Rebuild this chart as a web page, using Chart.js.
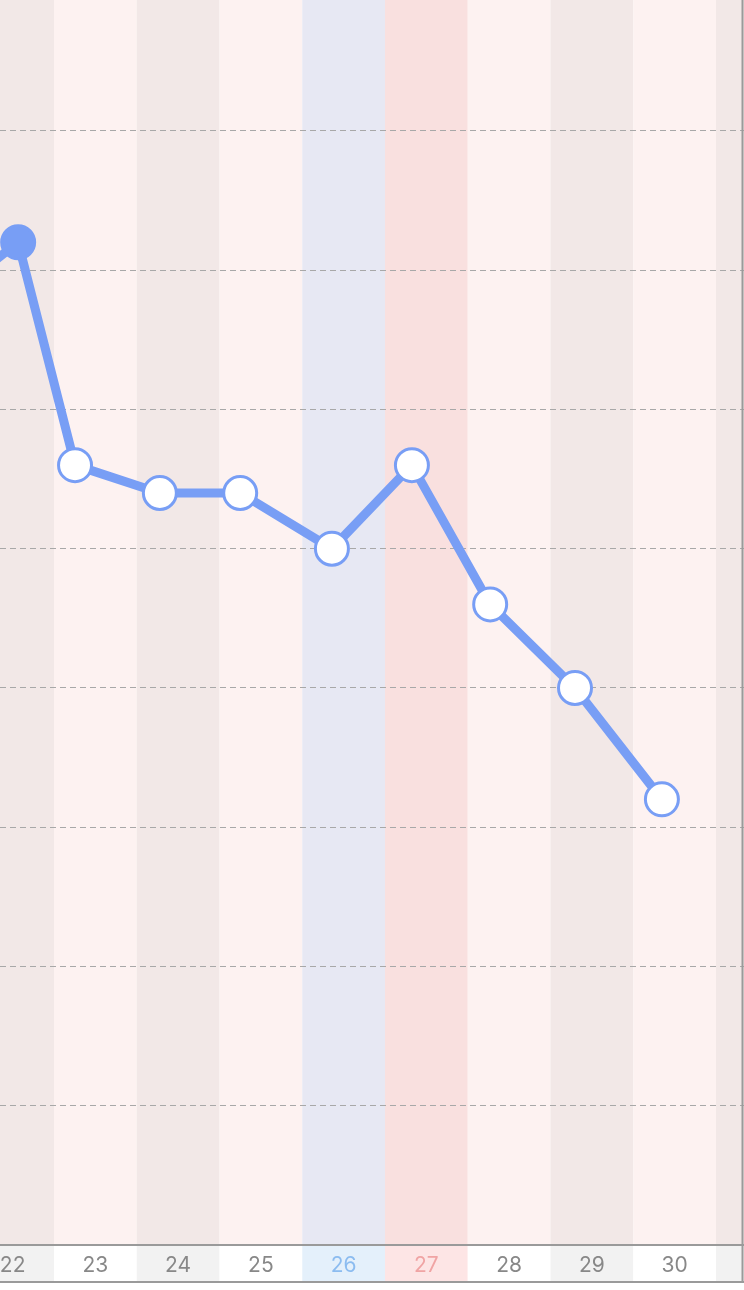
<!DOCTYPE html>
<html>
<head>
<meta charset="utf-8">
<script src="https://cdn.jsdelivr.net/npm/chart.js@4"></script>
<style>
  html, body { margin: 0; padding: 0; background: #fff; }
  #wrap { width: 744px; height: 1290px; position: relative; }
</style>
</head>
<body>
<div id="wrap"><canvas id="chart"></canvas></div>
<script>
// measurement days (x = day + hour / 24) and values
const pointDays = [21, 22, 23, 24, 25, 26, 27, 28, 29, 30];
const pointHours = [17, 13.6, 6.1, 6.7, 6.0, 8.6, 7.8, 6.5, 7.1, 8.3];
const pointValues = [6.8, 7.2, 5.6, 5.4, 5.4, 5.0, 5.6, 4.6, 4.0, 3.2];

// day columns and their kind (weekday shading / saturday / sunday)
const columnDays = [21, 22, 23, 24, 25, 26, 27, 28, 29, 30, 31];
const columnKinds = ['plain', 'shade', 'plain', 'shade', 'plain', 'sat', 'sun', 'plain', 'shade', 'plain', 'shade'];

// bottom tick labels
const tickDays = [22, 23, 24, 25, 26, 27, 28, 29, 30];

const columnFill = { plain: '#fdf2f1', shade: '#f2e8e7', sat: '#e7e8f3', sun: '#f9e0df' };
const bandFill = { plain: '#ffffff', shade: '#f2f2f2', sat: '#e4f0fb', sun: '#fde5e5' };
const labelColor = { plain: '#888888', shade: '#888888', sat: '#8cbcf0', sun: '#f0a4a4' };
const kindOf = d => columnKinds[columnDays.indexOf(d)] || 'plain';

const blue = '#789ef5';

const columns = {
  id: 'columns',
  beforeDraw(chart) {
    const { ctx, chartArea } = chart;
    const x = chart.scales.x;
    ctx.save();
    columnDays.forEach(d => {
      const l = x.getPixelForValue(d), r = x.getPixelForValue(d + 1);
      const k = kindOf(d);
      ctx.fillStyle = columnFill[k];
      ctx.fillRect(l, chartArea.top, r - l, chartArea.bottom - chartArea.top);
      ctx.fillStyle = bandFill[k];
      ctx.fillRect(l, x.top, r - l, x.bottom - x.top);
    });
    ctx.restore();
  },
  afterDraw(chart) {
    const { ctx } = chart;
    const x = chart.scales.x;
    ctx.save();
    ctx.strokeStyle = '#9a9a9a';
    ctx.lineWidth = 2;
    ctx.beginPath();
    ctx.moveTo(0, x.top); ctx.lineTo(chart.width, x.top);
    ctx.moveTo(0, x.bottom); ctx.lineTo(chart.width, x.bottom);
    ctx.moveTo(chart.width - 1.5, 0); ctx.lineTo(chart.width - 1.5, x.bottom);
    ctx.stroke();
    ctx.restore();
  }
};

const data = pointDays.map((d, i) => ({ x: d + pointHours[i] / 24, y: pointValues[i] }));

new Chart(document.getElementById('chart'), {
  type: 'line',
  data: {
    datasets: [{
      data: data,
      borderColor: blue,
      borderWidth: 9,
      tension: 0,
      pointRadius: 16.5,
      pointHoverRadius: 16.5,
      pointBorderWidth: 3,
      pointBorderColor: blue,
      pointBackgroundColor: ctx => (ctx.raw && ctx.raw.x < 23 ? blue : '#ffffff')
    }]
  },
  options: {
    responsive: true,
    maintainAspectRatio: false,
    animation: false,
    events: [],
    layout: { autoPadding: false, padding: { left: 0, right: 0, top: 0, bottom: 8 } },
    plugins: { legend: { display: false }, tooltip: { enabled: false } },
    scales: {
      x: {
        type: 'linear',
        min: 22.3474,
        max: 31.338,
        grid: { display: false },
        border: { display: false },
        afterBuildTicks: s => { s.ticks = tickDays.map(d => ({ value: d + 0.5 })); },
        afterFit: s => { s.height = 37; s.paddingLeft = 0; s.paddingRight = 0; },
        ticks: {
          autoSkip: false,
          maxRotation: 0,
          padding: 0,
          font: { family: 'Inter', size: 21 },
          color: c => labelColor[kindOf(Math.floor(c.tick.value))],
          callback: v => String(Math.floor(v))
        }
      },
      y: {
        min: 0,
        max: 8.94,
        afterFit: s => { s.width = 0; },
        afterBuildTicks: s => { s.ticks = [1, 2, 3, 4, 5, 6, 7, 8].map(v => ({ value: v })); },
        ticks: { display: false },
        border: { display: false, dash: [6, 4] },
        grid: { color: '#a8a8a8', lineWidth: 1, drawTicks: false }
      }
    }
  },
  plugins: [columns]
});
</script>
</body>
</html>
